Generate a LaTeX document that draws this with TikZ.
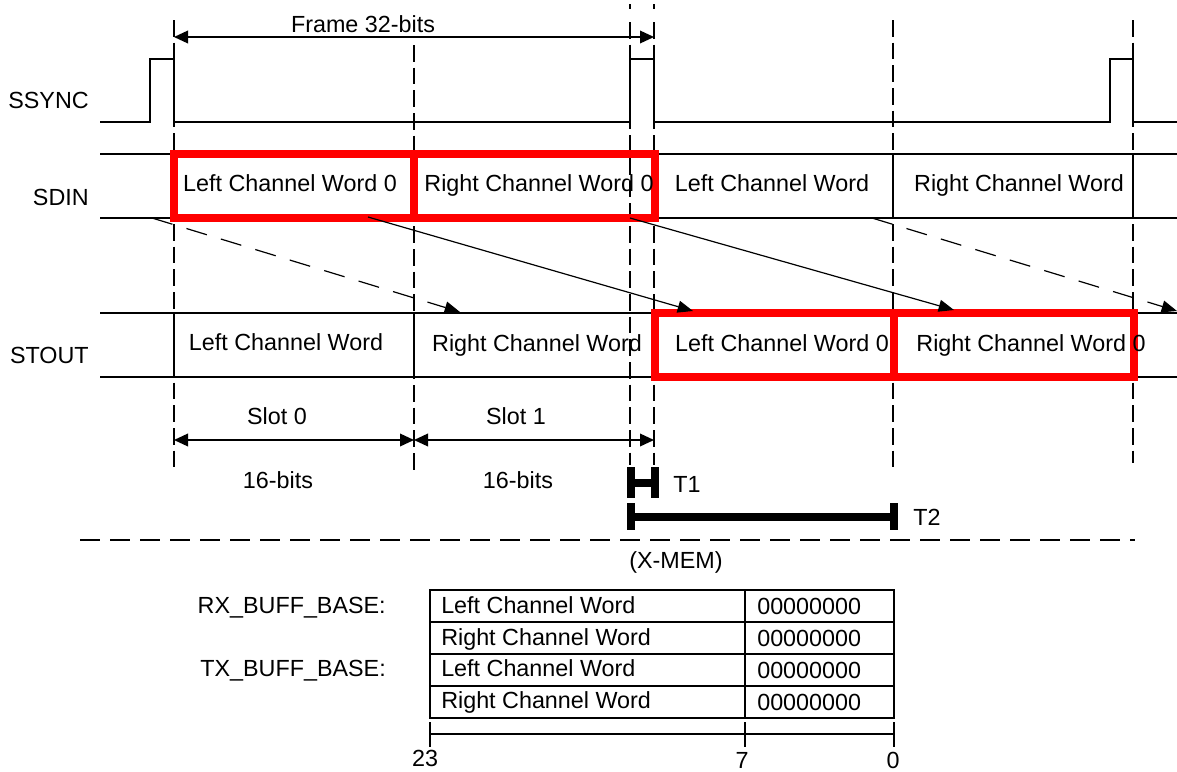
\documentclass[tikz,border=0pt]{standalone}
\usepackage{fontspec}
\setmainfont{Liberation Sans}
\usetikzlibrary{arrows.meta}
\begin{document}
\begin{tikzpicture}[x=0.75pt,y=-0.75pt,
  every node/.style={font=\fontsize{17.5}{20}\selectfont, inner sep=0pt, text height=12.5pt, text depth=0pt},
  sig/.style={line width=1.5pt},
  gridln/.style={line width=1.5pt, dash pattern=on 12.5pt off 4.5pt},
  redbox/.style={draw=red, line width=6pt},
  dimarrow/.style={line width=1.1pt, {Triangle[length=10.5pt,width=9.5pt]}-{Triangle[length=10.5pt,width=9.5pt]}},
  diag/.style={line width=0.9pt, -{Triangle[length=11.5pt,width=9pt]}},
  diagdash/.style={diag, dash pattern=on 16pt off 11pt},
  tbar/.style={line width=6pt},
]
\useasboundingbox (0,0) rectangle (1177,771);

% dashed timing grid
\foreach \x/\a/\b in {174/20/471, 414/45/471, 630/22/465, 654/22/465, 893/20/472, 1133/20/463}
  \draw[gridln] (\x,\a) -- (\x,\b);
\foreach \x in {630,654} \draw[line width=1.5pt] (\x,4) -- (\x,9);

% SSYNC waveform
\draw[sig] (100,122) -- (150,122) -- (150,59) -- (174,59) -- (174,122) -- (630,122) -- (630,59) -- (654,59) -- (654,122)
  -- (1110,122) -- (1110,59) -- (1133,59) -- (1133,122) -- (1177,122);

% rows
\draw[sig] (100,154) -- (1177,154);
\draw[sig] (100,218) -- (1177,218);
\draw[sig] (100,313) -- (1177,313);
\draw[sig] (100,377) -- (1177,377);
\foreach \x in {893,1133} \draw[sig] (\x,154) -- (\x,218);
\foreach \x in {174,414,654,1134} \draw[sig] (\x,313) -- (\x,377);

% red highlighted words
\draw[redbox] (174,154) rectangle (414,218);
\draw[redbox] (414,154) rectangle (655,218);
\draw[redbox] (655,313) rectangle (894,377);
\draw[redbox] (894,313) rectangle (1134,377);

% labels
\node[anchor=east] (ssync) at (89,100) {SSYNC};
\node[anchor=east] (sdin) at (89,197) {SDIN};
\node[anchor=east] (stout) at (89,355) {STOUT};

\node (in1) at (290,183) {Left Channel Word 0};
\node (in2) at (539,183) {Right Channel Word 0};
\node (in3) at (772,183) {Left Channel Word};
\node (in4) at (1019,183) {Right Channel Word};

\node (out1) at (286,342) {Left Channel Word};
\node (out2) at (537,343) {Right Channel Word};
\node (out3) at (782,343) {Left Channel Word 0};
\node (out4) at (1031,343) {Right Channel Word 0};

% frame arrow
\coordinate (fa) at (174,37);
\coordinate (fb) at (654,37);
\draw[dimarrow] (fa) -- (fb);
\node (frame) at (363,24) {Frame 32-bits};

% diagonal arrows
\coordinate (d1s) at (152,218); \coordinate (d1e) at (460,312);
\coordinate (d2s) at (368,217); \coordinate (d2e) at (693,311);
\coordinate (d3s) at (630,218); \coordinate (d3e) at (954,310);
\coordinate (d4s) at (872,218); \coordinate (d4e) at (1177,311);
\draw[diagdash] (d1s) -- (d1e);
\draw[diag] (d2s) -- (d2e);
\draw[diag] (d3s) -- (d3e);
\draw[diagdash] (d4s) -- (d4e);

% slots
\coordinate (s0) at (174,440);
\coordinate (s1) at (414,440);
\coordinate (s2) at (654,440);
\draw[dimarrow] (s0) -- (s1);
\draw[dimarrow] (s1) -- (s2);
\node (slot0) at (277,416) {Slot 0};
\node (slot1) at (516,416) {Slot 1};
\node (bits0) at (278,480) {16-bits};
\node (bits1) at (518,480) {16-bits};

% T1, T2
\draw[tbar] (631,467) -- (631,498);
\draw[tbar] (655,467) -- (655,498);
\draw[tbar] (631,483) -- (655,483);
\node[anchor=west] (t1) at (673,484) {T1};
\draw[tbar] (631,503) -- (631,530);
\draw[tbar] (894,503) -- (894,530);
\draw[tbar] (631,517) -- (894,517);
\node[anchor=west] (t2) at (913,517) {T2};

% separator
\draw[line width=1.5pt, dash pattern=on 15pt off 7.5pt] (80,540) -- (1135,540);

% memory table
\node (xmem) at (676,560) {(X-MEM)};
\node[anchor=east] (rx) at (386,605) {RX\_BUFF\_BASE:};
\node[anchor=east] (tx) at (386,668) {TX\_BUFF\_BASE:};
\draw[line width=1.5pt] (430,590) rectangle (894,718);
\foreach \y in {622,654,686} \draw[line width=1.5pt] (430,\y) -- (894,\y);
\draw[line width=1.5pt] (745,590) -- (745,718);
\node[anchor=west] (m1) at (441,605) {Left Channel Word};
\node[anchor=west] (m2) at (441,637) {Right Channel Word};
\node[anchor=west] (m3) at (441,668) {Left Channel Word};
\node[anchor=west] (m4) at (441,700) {Right Channel Word};
\node[anchor=west] (z1) at (757,606) {00000000};
\node[anchor=west] (z2) at (757,638) {00000000};
\node[anchor=west] (z3) at (757,670) {00000000};
\node[anchor=west] (z4) at (757,702) {00000000};

% bit scale
\draw[line width=1.5pt] (430,734) -- (894,734);
\foreach \x in {430,745,894} \draw[line width=1.5pt] (\x,722) -- (\x,747);
\node (b23) at (425,758) {23};
\node (b7) at (742,760) {7};
\node (b0) at (893,760) {0};
\end{tikzpicture}
\end{document}
